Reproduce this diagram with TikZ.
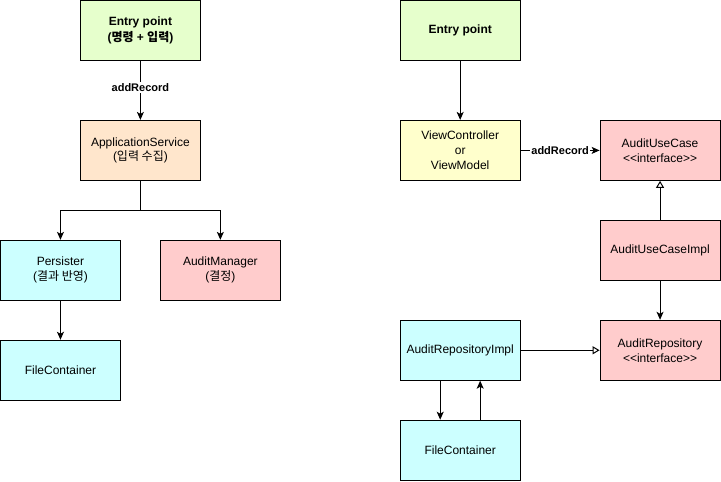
\documentclass[tikz,border=0pt]{standalone}
\usepackage{fontspec}
\setmainfont{Liberation Sans}
\newfontfamily\krfont{Noto Sans CJK KR}
\newcommand{\ko}[1]{{\krfont #1}}
\newcommand{\iface}{{<}{<}interface{>}{>}}
\usetikzlibrary{arrows.meta}
\definecolor{entrygreen}{HTML}{E6FFCC}
\definecolor{serviceorange}{HTML}{FFE6CC}
\definecolor{storecyan}{HTML}{CCFFFF}
\definecolor{auditred}{HTML}{FFCCCC}
\definecolor{viewyellow}{HTML}{FFFFCC}
\tikzset{
  box/.style={draw,line width=1pt,minimum width=120pt,minimum height=60pt,
    inner sep=0pt,align=center,font=\fontsize{12}{15}\selectfont},
  boldbox/.style={box,font=\fontsize{12}{16}\selectfont\bfseries},
  arr/.style={line width=1pt,-{Stealth[length=8pt,width=7pt,inset=2pt]}},
  impl/.style={line width=1pt,-{Triangle[open,length=7pt,width=8pt]}},
  lbl/.style={fill=white,inner sep=1pt,font=\fontsize{11}{13}\selectfont\bfseries}
}
\begin{document}
\begin{tikzpicture}[x=1pt,y=-1pt]
  \useasboundingbox (-0.5,-0.5) rectangle (721,481);
  \node[boldbox,fill=entrygreen] (entryL) at (140,30) {Entry point\\(\ko{명령} + \ko{입력})};
  \node[box,fill=serviceorange] (service) at (140,150) {ApplicationService\\(\ko{입력 수집})};
  \node[box,fill=storecyan] (persister) at (60,270) {Persister\\(\ko{결과 반영})};
  \node[box,fill=auditred] (manager) at (220,270) {AuditManager\\(\ko{결정})};
  \node[box,fill=storecyan] (filesL) at (60,370) {FileContainer};
  \coordinate (split) at (140,210);
  \draw[arr] (entryL) -- node[lbl,pos=.45]{addRecord} (service);
  \draw[arr] (service) -- (split) -| (persister);
  \draw[arr] (split) -| (manager);
  \draw[arr] (persister) -- (filesL);

  \node[boldbox,fill=entrygreen] (entryR) at (460,30) {Entry point};
  \node[box,fill=viewyellow] (view) at (460,150) {ViewController\\or\\ViewModel};
  \node[box,fill=auditred] (usecase) at (660,150) {AuditUseCase\\\iface};
  \node[box,fill=auditred] (usecaseimpl) at (660,250) {AuditUseCaseImpl};
  \node[box,fill=auditred] (repo) at (660,350) {AuditRepository\\\iface};
  \node[box,fill=storecyan] (repoimpl) at (460,350) {AuditRepositoryImpl};
  \node[box,fill=storecyan] (filesR) at (460,450) {FileContainer};
  \draw[arr] (entryR) -- (view);
  \draw[arr] (view) -- node[lbl]{addRecord} (usecase);
  \draw[impl] (usecaseimpl) -- (usecase);
  \draw[arr] (usecaseimpl) -- (repo);
  \draw[impl] (repoimpl) -- (repo);
  \draw[arr] ([xshift=-20pt]repoimpl.south) -- ([xshift=-20pt]filesR.north);
  \draw[arr] ([xshift=20pt]filesR.north) -- ([xshift=20pt]repoimpl.south);
\end{tikzpicture}
\end{document}
